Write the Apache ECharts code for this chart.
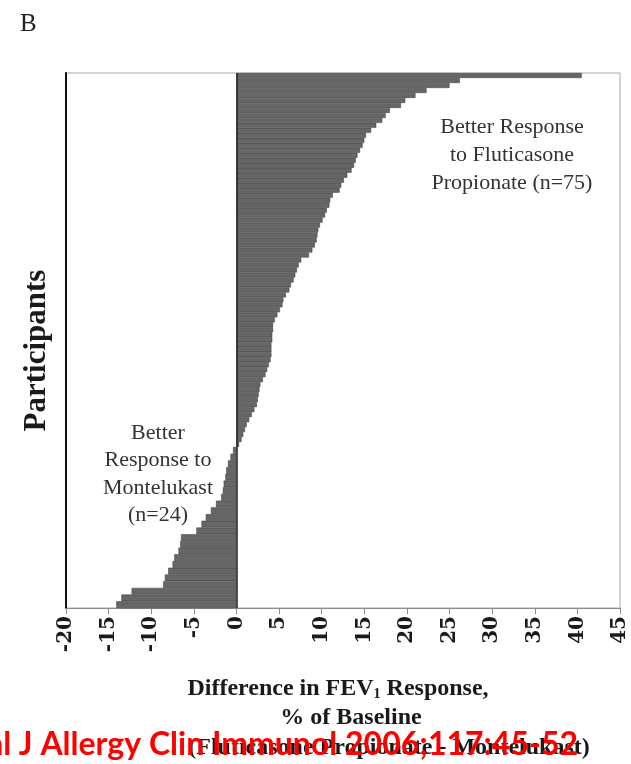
<!DOCTYPE html>
<html>
<head>
<meta charset="utf-8">
<script src="https://cdn.jsdelivr.net/npm/echarts@6/dist/echarts.min.js"></script>
<style>
  html, body { margin: 0; padding: 0; background: #fff; }
  #chart { width: 631px; height: 764px; }
</style>
</head>
<body>
<div id="chart"></div>
<script>
// Per-participant difference in FEV1 response (% of baseline),
// fluticasone propionate minus montelukast, sorted from largest to smallest.
const betterFluticasone = [
  40.5, 26.2, 25.0, 22.3, 21.0, 19.8, 19.3, 18.0, 17.5, 17.1,
  16.4, 15.8, 15.2, 15.0, 14.8, 14.5, 14.2, 14.0, 13.8, 13.5,
  13.0, 12.6, 12.3, 12.1, 11.3, 11.0, 10.9, 10.6, 10.4, 10.1,
  9.8, 9.6, 9.5, 9.4, 9.2, 8.9, 8.5, 7.6, 7.3, 7.1,
  6.9, 6.7, 6.4, 6.2, 5.8, 5.5, 5.4, 5.1, 4.8, 4.5,
  4.3, 4.3, 4.2, 4.2, 4.1, 4.1, 4.1, 4.0, 3.8, 3.6,
  3.4, 3.1, 2.8, 2.7, 2.6, 2.5, 2.4, 2.1, 1.8, 1.5,
  1.2, 1.0, 0.8, 0.6, 0.3
];
const betterMontelukast = [
  -0.4, -0.7, -1.0, -1.2, -1.3, -1.5, -1.6, -1.8, -2.4, -3.0,
  -3.6, -4.1, -4.7, -6.5, -6.6, -6.8, -7.3, -7.5, -8.0, -8.4,
  -8.6, -12.3, -13.5, -14.1
];
const fpIds = betterFluticasone.map((_, i) => 'FP' + (i + 1));
const mkIds = betterMontelukast.map((_, i) => 'MK' + (i + 1));

const xMin = -20, xMax = 45, xStep = 5;

const serif = '"Liberation Serif", "Times New Roman", serif';
const ink = '#1a1a1a';

// Plot frame and the two participant groups stacked inside it.
const frame = { left: 66, right: 11, top: 73, bottom: 156 };
const split = 447; // boundary between the two groups, px from top

const hiddenX = (gridIndex) => ({
  type: 'value', gridIndex, min: xMin, max: xMax, interval: xStep, show: false
});
const groupY = (gridIndex, ids) => ({
  type: 'category', gridIndex, data: ids, inverse: true, show: false
});
const barSeries = (axisIndex, values) => ({
  type: 'bar',
  xAxisIndex: axisIndex, yAxisIndex: axisIndex,
  data: values,
  barCategoryGap: '0%',
  itemStyle: { color: '#666666', borderColor: '#3a3a3a', borderWidth: 0.5 },
  markLine: {
    silent: true,
    symbol: 'none',
    label: { show: false },
    lineStyle: { color: '#222', width: 1.5, type: 'solid' },
    data: [{ xAxis: 0 }]
  }
});

const chart = echarts.init(document.getElementById('chart'), null, { renderer: 'canvas' });

chart.setOption({
  animation: false,
  backgroundColor: '#ffffff',
  grid: [
    { ...frame, show: true, borderColor: '#a8a8a8', borderWidth: 1, backgroundColor: 'transparent' },
    { left: frame.left, right: frame.right, top: frame.top, bottom: 764 - split },
    { left: frame.left, right: frame.right, top: split, bottom: frame.bottom }
  ],
  xAxis: [
    hiddenX(0),
    hiddenX(1),
    {
      type: 'value', gridIndex: 2,
      min: xMin, max: xMax, interval: xStep,
      axisLine: { show: true, lineStyle: { color: '#8a8a8a', width: 1 } },
      axisTick: { show: true, length: 6, lineStyle: { color: '#8a8a8a', width: 1 } },
      splitLine: { show: false },
      axisLabel: {
        rotate: 90, margin: 8,
        fontFamily: '"DejaVu Serif", serif', fontWeight: 'bold',
        fontSize: 20, color: ink
      }
    }
  ],
  yAxis: [
    {
      type: 'value', gridIndex: 0, min: 0, max: 1,
      axisLine: { show: true, onZero: false, lineStyle: { color: '#111', width: 2 } },
      axisTick: { show: false },
      axisLabel: { show: false },
      splitLine: { show: false },
      name: 'Participants',
      nameLocation: 'middle',
      nameRotate: 90,
      nameGap: 14,
      nameTextStyle: { fontFamily: serif, fontWeight: 'bold', fontSize: 31, color: ink, padding: [0, 20, 0, 0] }
    },
    groupY(1, fpIds),
    groupY(2, mkIds)
  ],
  series: [
    barSeries(1, betterFluticasone),
    barSeries(2, betterMontelukast)
  ],
  graphic: [
    { type: 'text', left: 20, top: 12,
      style: { text: 'B', font: '25px ' + serif, fill: '#222' } },
    { type: 'text', x: 512, y: 155,
      style: { text: 'Better Response\nto Fluticasone\nPropionate (n=75)', font: '22px ' + serif,
               fill: '#333', align: 'center', verticalAlign: 'middle', lineHeight: 28 } },
    { type: 'text', x: 158, y: 474,
      style: { text: 'Better\nResponse to\nMontelukast\n(n=24)', font: '22px ' + serif,
               fill: '#333', align: 'center', verticalAlign: 'middle', lineHeight: 27.5 } },
    { type: 'text', x: 338, y: 689,
      style: { rich: {
                 t: { fontFamily: serif, fontWeight: 'bold', fontSize: 24, fill: ink },
                 s: { fontFamily: serif, fontWeight: 'bold', fontSize: 14, fill: ink, verticalAlign: 'bottom', padding: [9, 0, 0, 0] }
               },
               text: '{t|Difference in FEV}{s|1}{t| Response,}',
               align: 'center', verticalAlign: 'middle' } },
    { type: 'text', x: 351, y: 718,
      style: { text: '% of Baseline', font: 'bold 24px ' + serif, fill: ink,
               align: 'center', verticalAlign: 'middle' } },
    { type: 'text', x: 389, y: 748,
      style: { text: '(Fluticasone Propionate - Montelukast)', font: 'bold 24px ' + serif, fill: ink,
               align: 'center', verticalAlign: 'middle' } },
    { type: 'text', x: 578, y: 745,
      style: { text: 'Zeiger et al J Allergy Clin Immunol 2006;117:45-52', font: 'bold 32px Lato, "Liberation Sans", sans-serif',
               fill: '#ff0000', align: 'right', verticalAlign: 'middle' } }
  ]
});
</script>
</body>
</html>
